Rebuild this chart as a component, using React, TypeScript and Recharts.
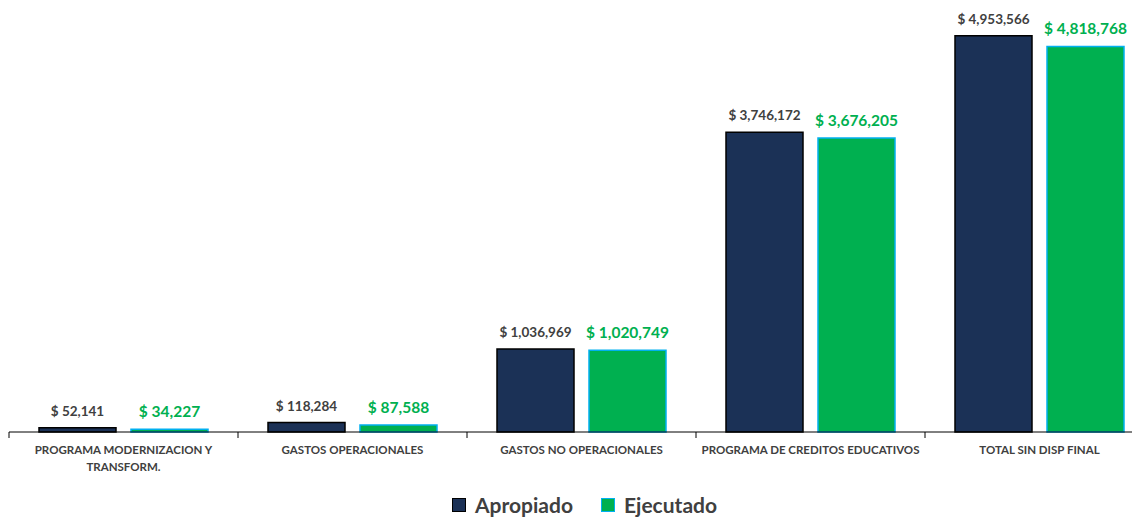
import React from "react";
import { BarChart, Bar, XAxis, YAxis, LabelList } from "recharts";

const categories = [
  "PROGRAMA MODERNIZACION Y|TRANSFORM.",
  "GASTOS OPERACIONALES",
  "GASTOS NO OPERACIONALES",
  "PROGRAMA DE CREDITOS EDUCATIVOS",
  "TOTAL SIN DISP FINAL",
];
const apropiado = [52141, 118284, 1036969, 3746172, 4953566];
const ejecutado = [34227, 87588, 1020749, 3676205, 4818768];

const data = categories.map((name, i) => ({
  name,
  apropiado: apropiado[i],
  ejecutado: ejecutado[i],
}));

const FONT = "Lato, 'Open Sans', sans-serif";
const NAVY = "#1b3156";
const GREEN = "#00b050";
const CYAN = "#00b0f0";
const TEXT = "#404040";
const BAND = 229;

const fmt = (v: number) => "$ " + v.toLocaleString("en-US");

function CategoryTick(props: any) {
  const { x, y, payload, index } = props;
  const lines = String(payload.value).split("|");
  const left = x - BAND / 2;
  return (
    <g>
      <line x1={left} y1={y - 8} x2={left} y2={y - 2} stroke="#000" strokeWidth={1} />
      {index === categories.length - 1 && (
        <line x1={left + BAND} y1={y - 8} x2={left + BAND} y2={y - 2} stroke="#000" strokeWidth={1} />
      )}
      <text x={x} y={y} textAnchor="middle" fill={TEXT} fontSize={11.5} fontWeight={700} fontFamily={FONT}>
        {lines.map((l, i) => (
          <tspan key={i} x={x} dy={i === 0 ? 14 : 17}>
            {l}
          </tspan>
        ))}
      </text>
    </g>
  );
}

function makeLabel(color: string, size: number) {
  return (props: any) => {
    const { x, y, width, value } = props;
    return (
      <text
        x={x + width / 2}
        y={y - 12}
        textAnchor="middle"
        fill={color}
        fontSize={size}
        fontWeight={700}
        fontFamily={FONT}
      >
        {fmt(value)}
      </text>
    );
  };
}

function LegendItem({ color, stroke, label }: { color: string; stroke: string; label: string }) {
  return (
    <span style={{ display: "inline-flex", alignItems: "center", marginRight: 28 }}>
      <span
        style={{
          width: 12,
          height: 12,
          background: color,
          border: `1.5px solid ${stroke}`,
          display: "inline-block",
          marginRight: 9,
        }}
      />
      <span style={{ fontSize: 21, fontWeight: 700, color: TEXT, fontFamily: FONT }}>{label}</span>
    </span>
  );
}

export default function App() {
  return (
    <div style={{ position: "relative", width: 1132, height: 510, overflow: "hidden" }}>
      <BarChart
        width={1146}
        height={530}
        data={data}
        margin={{ top: 24, right: 0, bottom: 46, left: 1 }}
        barCategoryGap={30}
        barGap={15}
      >
        <XAxis
          dataKey="name"
          height={60}
          axisLine={{ stroke: "#000", strokeWidth: 1 }}
          tickLine={false}
          interval={0}
          tick={<CategoryTick />}
        />
        <YAxis hide domain={[0, 5000000]} />
        <Bar dataKey="apropiado" fill={NAVY} stroke="#000" strokeWidth={1.5} barSize={77} isAnimationActive={false}>
          <LabelList dataKey="apropiado" content={makeLabel(TEXT, 13.5)} />
        </Bar>
        <Bar dataKey="ejecutado" fill={GREEN} stroke={CYAN} strokeWidth={1.5} barSize={77} isAnimationActive={false}>
          <LabelList dataKey="ejecutado" content={makeLabel(GREEN, 15.5)} />
        </Bar>
      </BarChart>
      <div style={{ position: "absolute", left: 444, top: 484, whiteSpace: "nowrap" }}>
        <LegendItem color={NAVY} stroke="#000" label="Apropiado" />
        <LegendItem color={GREEN} stroke={CYAN} label="Ejecutado" />
      </div>
    </div>
  );
}
